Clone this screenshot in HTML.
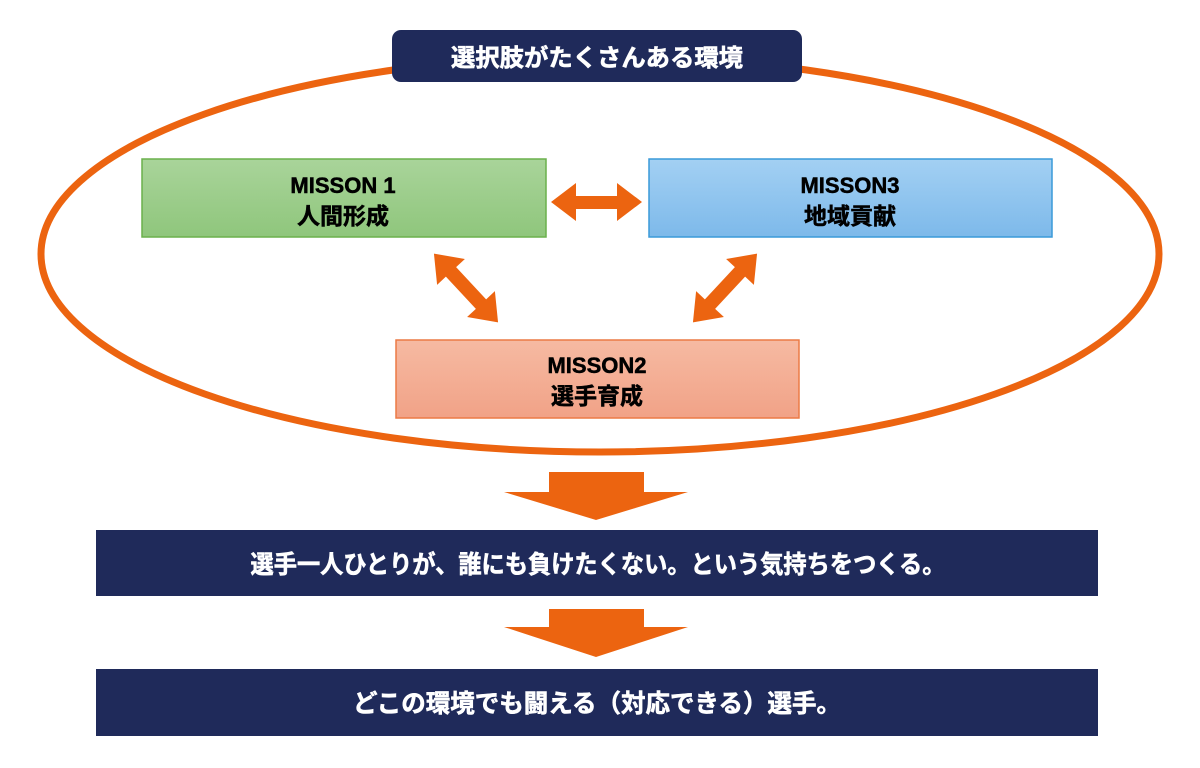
<!DOCTYPE html>
<html><head><meta charset="utf-8"><style>
html,body{margin:0;padding:0;background:#fff;width:1200px;height:768px;overflow:hidden}
text{font-family:"Liberation Sans","Noto Sans CJK JP",sans-serif;font-weight:bold}
</style></head><body>
<svg width="1200" height="768" viewBox="0 0 1200 768" xmlns="http://www.w3.org/2000/svg">
<defs>
<linearGradient id="g" x1="0" y1="0" x2="0" y2="1"><stop offset="0" stop-color="#a9d49a"/><stop offset="1" stop-color="#8fc67c"/></linearGradient>
<linearGradient id="b" x1="0" y1="0" x2="0" y2="1"><stop offset="0" stop-color="#a3d0f3"/><stop offset="1" stop-color="#7db9ea"/></linearGradient>
<linearGradient id="p" x1="0" y1="0" x2="0" y2="1"><stop offset="0" stop-color="#f6baa2"/><stop offset="1" stop-color="#f1a287"/></linearGradient>
</defs>
<ellipse cx="600" cy="254" rx="559" ry="198" fill="none" stroke="#ec6410" stroke-width="7"/>
<rect x="392" y="30" width="410" height="52" rx="9" fill="#1f2a5a"/>
<text x="597" y="66" font-size="24" fill="#fff" stroke="#fff" stroke-width="0.6" text-anchor="middle" textLength="292" lengthAdjust="spacingAndGlyphs">選択肢がたくさんある環境</text>
<rect x="142" y="159" width="404" height="78" fill="url(#g)" stroke="#6ab04c" stroke-width="1.5"/>
<text x="343" y="193" font-size="22" text-anchor="middle" fill="#000" stroke="#000" stroke-width="0.5">MISSON 1</text>
<text x="343" y="224" font-size="23" text-anchor="middle" fill="#000" stroke="#000" stroke-width="0.5">人間形成</text>
<rect x="649" y="159" width="403" height="78" fill="url(#b)" stroke="#3a9ad9" stroke-width="1.5"/>
<text x="850" y="193" font-size="22" text-anchor="middle" fill="#000" stroke="#000" stroke-width="0.5">MISSON3</text>
<text x="850" y="224" font-size="23" text-anchor="middle" fill="#000" stroke="#000" stroke-width="0.5">地域貢献</text>
<rect x="396" y="340" width="403" height="78" fill="url(#p)" stroke="#ec7a45" stroke-width="1.5"/>
<text x="597" y="373" font-size="22" text-anchor="middle" fill="#000" stroke="#000" stroke-width="0.5">MISSON2</text>
<text x="597" y="404" font-size="23" text-anchor="middle" fill="#000" stroke="#000" stroke-width="0.5">選手育成</text>
<polygon points="551,202 576,183 576,196 617,196 617,183 642,202 617,221 617,209 576,209 576,221" fill="#ec6410"/>
<g transform="translate(466,288) rotate(47)">
<polygon points="-47,0 -22,-19 -22,-7 22,-7 22,-19 47,0 22,19 22,7 -22,7 -22,19" fill="#ec6410"/>
</g>
<g transform="translate(725,288) rotate(-47)">
<polygon points="-47,0 -22,-19 -22,-7 22,-7 22,-19 47,0 22,19 22,7 -22,7 -22,19" fill="#ec6410"/>
</g>
<polygon points="549,472 644,472 644,492 688,492 596,520 504,492 549,492" fill="#ec6410"/>
<polygon points="549,609 644,609 644,627 688,627 596,657 504,627 549,627" fill="#ec6410"/>
<rect x="96" y="530" width="1002" height="66" fill="#1f2a5a"/>
<text x="598" y="573" font-size="25" fill="#fff" stroke="#fff" stroke-width="0.6" text-anchor="middle" textLength="695" lengthAdjust="spacingAndGlyphs">選手一人ひとりが、誰にも負けたくない。という気持ちをつくる。</text>
<rect x="96" y="669" width="1002" height="67" fill="#1f2a5a"/>
<text x="597" y="712" font-size="25" fill="#fff" stroke="#fff" stroke-width="0.6" text-anchor="middle" textLength="488" lengthAdjust="spacingAndGlyphs">どこの環境でも闘える（対応できる）選手。</text>
</svg>
</body></html>
